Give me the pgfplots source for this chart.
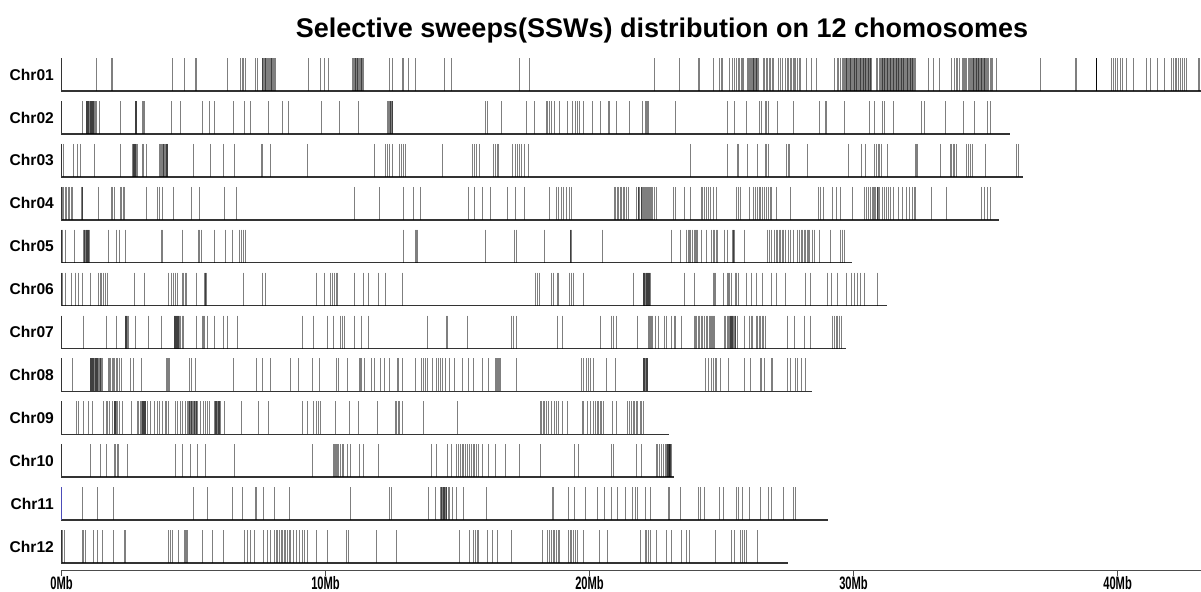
\documentclass[border=0pt]{standalone}
\usepackage{pgfplots}
\pgfplotsset{compat=1.18}
\usepackage{graphicx}
\usepackage{fontspec}
\setmainfont{Liberation Sans}
\newcommand\cond[1]{\scalebox{0.62}[1]{#1}}
\pgfplotsset{
  sweep/.style={only marks, mark=|, mark size=8.25pt,
    mark options={draw=black, draw opacity=0.5, line width=0.5pt}},
  chrom/.style={draw=black!80, line width=0.75pt},
}
\begin{document}
\begin{tikzpicture}
\useasboundingbox (0,0) rectangle (600.5pt,296pt);
\begin{axis}[
  at={(30.75pt,10.5pt)}, anchor=south west,
  scale only axis, width=569.75pt, height=257.1pt,
  xmin=0, xmax=43.16, ymin=0.814, ymax=12.8,
  clip=false,
  axis x line*=bottom, axis y line=none,
  x axis line style={draw=black!70, line width=0.5pt},
  xtick={0,10,20,30,40},
  xticklabels={\cond{0Mb},\cond{10Mb},\cond{20Mb},\cond{30Mb},\cond{40Mb}},
  xticklabel style={font=\bfseries\fontsize{9}{9}\selectfont, inner sep=0.3pt, yshift=0.4pt},
  tick align=outside, major tick length=2.5pt,
  xtick style={draw=black!70, line width=0.5pt},
]
% Chr01
\addplot[chrom] coordinates {(0,12.769)(0,12)(43.16,12)};
\addplot[sweep] table[header=false, x index=0, y expr=12.3846, row sep=\\]{
1.34\\1.88\\1.93\\4.21\\4.67\\5.08\\5.12\\6.28\\6.79\\6.84\\6.90\\6.98\\7.36\\7.42\\7.60\\7.66\\7.71\\7.77\\7.85\\7.91\\7.96\\8.02\\8.10\\9.34\\9.81\\9.95\\10.12\\11.02\\11.08\\11.15\\11.20\\11.26\\11.31\\11.38\\11.44\\12.41\\12.55\\12.90\\12.97\\13.14\\13.42\\14.51\\14.79\\17.34\\17.73\\
22.45\\23.40\\24.12\\24.16\\24.69\\24.93\\24.99\\25.03\\25.29\\25.40\\25.49\\25.58\\25.63\\25.68\\25.74\\25.79\\25.85\\25.97\\26.03\\26.09\\26.17\\26.22\\26.28\\26.34\\26.39\\26.59\\26.64\\26.70\\26.75\\26.81\\26.86\\26.92\\26.98\\27.16\\27.24\\27.32\\27.43\\27.49\\27.55\\27.60\\27.66\\27.71\\27.77\\27.82\\27.88\\27.96\\27.99\\28.21\\28.41\\28.60\\
29.27\\29.38\\29.44\\29.51\\29.58\\29.65\\29.72\\29.77\\29.83\\29.90\\29.97\\30.02\\30.08\\30.13\\30.19\\30.25\\30.30\\30.36\\30.41\\30.47\\30.52\\30.58\\30.63\\30.69\\30.86\\30.91\\30.97\\31.02\\31.08\\31.14\\31.19\\31.25\\31.30\\31.36\\31.41\\31.47\\31.52\\31.58\\31.64\\31.69\\31.75\\31.80\\31.86\\31.91\\31.97\\32.03\\32.08\\32.14\\32.19\\32.25\\32.30\\32.36\\
32.85\\33.03\\33.24\\33.72\\33.81\\33.89\\33.95\\34.03\\34.11\\34.17\\34.25\\34.34\\34.42\\34.50\\34.56\\34.61\\34.67\\34.73\\34.78\\34.84\\34.89\\34.95\\35.00\\35.06\\35.11\\35.17\\35.23\\35.28\\35.42\\37.09\\38.40\\38.45\\39.19\\39.21\\39.22\\39.78\\39.85\\39.92\\39.98\\40.12\\40.19\\40.33\\40.61\\41.10\\41.24\\41.52\\41.79\\42.04\\42.11\\42.18\\42.25\\42.32\\42.39\\42.46\\42.53\\42.60\\43.05\\43.12\\
7.63\\7.69\\7.74\\7.81\\7.88\\7.94\\7.99\\8.06\\11.05\\11.12\\11.18\\11.23\\11.29\\11.35\\11.41\\
29.61\\29.68\\29.75\\29.80\\29.87\\29.94\\30.00\\30.05\\30.11\\30.16\\30.22\\30.28\\30.33\\30.39\\30.44\\30.50\\30.55\\30.61\\30.66\\
31.05\\31.11\\31.17\\31.22\\31.28\\31.33\\31.39\\31.44\\31.50\\31.55\\31.61\\31.66\\31.72\\31.78\\31.83\\31.89\\31.94\\32.00\\32.06\\32.11\\32.17\\32.22\\32.28\\
34.20\\34.29\\34.38\\34.46\\34.53\\34.58\\34.64\\34.70\\34.75\\34.81\\34.86\\34.92\\34.97\\35.03\\39.20\\39.20\\26.06\\26.13\\26.20\\26.25\\26.31\\26.37\\
};
% Chr02
\addplot[chrom] coordinates {(0,11.769)(0,11)(35.94,11)};
\addplot[sweep] table[header=false, x index=0, y expr=11.3846, row sep=\\]{
0.81\\0.93\\0.97\\1.01\\1.06\\1.10\\1.14\\1.18\\1.22\\1.27\\1.31\\1.45\\2.22\\2.81\\2.84\\3.06\\3.12\\3.16\\4.17\\4.52\\5.33\\5.61\\5.81\\6.51\\6.93\\7.15\\7.85\\8.36\\8.61\\9.84\\10.54\\11.26\\12.34\\12.39\\12.45\\12.50\\12.55\\16.05\\16.15\\16.68\\17.62\\17.90\\18.36\\18.42\\18.47\\18.56\\18.67\\18.88\\19.16\\19.34\\19.48\\19.55\\19.62\\19.79\\20.10\\20.42\\20.70\\20.77\\21.02\\21.52\\
22.01\\22.11\\22.15\\22.19\\22.23\\23.26\\25.24\\25.49\\25.93\\26.45\\26.52\\26.66\\26.72\\26.79\\27.11\\27.74\\28.71\\28.92\\28.96\\29.66\\30.59\\30.80\\31.08\\31.19\\31.50\\32.58\\32.68\\33.49\\34.17\\34.59\\35.07\\35.18\\
0.95\\0.99\\1.03\\1.08\\1.12\\1.16\\1.20\\1.24\\2.82\\2.83\\12.42\\12.47\\12.52\\
};
% Chr03
\addplot[chrom] coordinates {(0,10.769)(0,10)(36.41,10)};
\addplot[sweep] table[header=false, x index=0, y expr=10.3846, row sep=\\]{
0.06\\0.45\\0.62\\0.73\\1.25\\2.22\\2.70\\2.74\\2.78\\2.82\\2.86\\3.05\\3.09\\3.23\\3.71\\3.76\\3.82\\3.87\\3.93\\3.99\\4.03\\5.01\\5.64\\6.13\\6.55\\7.57\\7.63\\7.91\\9.32\\11.85\\12.27\\12.34\\12.41\\12.53\\12.81\\12.88\\12.95\\13.04\\14.44\\15.56\\15.63\\15.70\\15.84\\16.37\\16.43\\16.50\\16.57\\17.10\\17.18\\17.27\\17.35\\17.44\\17.55\\17.69\\
23.82\\25.24\\25.60\\25.63\\25.97\\26.35\\26.66\\26.71\\26.79\\27.46\\27.52\\27.56\\28.27\\29.80\\30.31\\30.47\\30.80\\30.87\\30.94\\31.00\\31.05\\31.30\\32.33\\32.37\\32.42\\33.28\\33.67\\33.72\\33.78\\33.83\\33.89\\34.28\\34.35\\34.42\\34.49\\35.00\\36.19\\36.23\\
2.72\\2.76\\2.80\\2.84\\3.79\\3.85\\3.90\\3.96\\4.01\\
};
% Chr04
\addplot[chrom] coordinates {(0,9.769)(0,9)(35.50,9)};
\addplot[sweep] table[header=false, x index=0, y expr=9.3846, row sep=\\]{
0.03\\0.09\\0.15\\0.20\\0.26\\0.31\\0.37\\0.43\\0.76\\0.79\\1.41\\1.88\\1.94\\2.00\\2.22\\2.28\\2.33\\2.39\\3.23\\3.65\\3.72\\3.82\\4.24\\4.91\\5.22\\6.17\\6.62\\11.08\\12.06\\12.95\\13.32\\13.60\\15.42\\15.66\\15.94\\16.26\\16.88\\17.20\\17.52\\18.47\\18.75\\18.84\\18.95\\19.03\\19.12\\19.23\\19.31\\20.94\\21.00\\21.05\\21.11\\21.16\\21.22\\21.28\\21.33\\21.40\\21.47\\
21.79\\21.84\\21.90\\21.95\\22.01\\22.06\\22.12\\22.17\\22.23\\22.29\\22.34\\22.40\\22.45\\22.54\\23.18\\23.26\\23.59\\23.82\\24.23\\24.29\\24.35\\24.43\\24.51\\24.60\\24.68\\24.82\\25.56\\25.63\\25.71\\26.07\\26.21\\26.28\\26.35\\26.42\\26.49\\26.56\\26.63\\26.70\\26.77\\26.84\\26.91\\27.07\\27.63\\28.66\\28.74\\28.85\\29.22\\29.34\\29.52\\29.97\\
30.41\\30.50\\30.58\\30.66\\30.72\\30.77\\30.83\\30.89\\30.94\\31.00\\31.08\\31.16\\31.25\\31.33\\31.41\\31.50\\31.72\\31.86\\32.00\\32.11\\32.22\\32.30\\32.36\\32.94\\33.51\\34.86\\34.95\\35.09\\35.20\\
0.78\\21.87\\21.98\\22.09\\22.20\\22.31\\30.80\\30.92\\
};
% Chr05
\addplot[chrom] coordinates {(0,8.769)(0,8)(29.96,8)};
\addplot[sweep] table[header=false, x index=0, y expr=8.3846, row sep=\\]{
0.03\\0.17\\0.48\\0.85\\0.89\\0.93\\0.97\\1.02\\1.06\\1.79\\2.07\\2.21\\2.42\\3.79\\3.83\\4.59\\5.18\\5.22\\5.32\\5.78\\6.20\\6.48\\6.76\\6.83\\6.90\\6.97\\12.95\\13.39\\13.43\\13.47\\16.05\\17.17\\17.24\\18.28\\19.27\\19.30\\20.49\\
23.11\\23.45\\23.68\\23.73\\23.79\\23.84\\23.90\\23.96\\24.01\\24.10\\24.23\\24.43\\24.62\\24.68\\24.74\\24.79\\24.85\\25.10\\25.24\\25.40\\25.44\\25.49\\25.88\\26.74\\26.82\\26.91\\26.99\\27.07\\27.13\\27.18\\27.24\\27.30\\27.35\\27.41\\27.52\\27.63\\27.74\\27.88\\27.96\\28.02\\28.07\\28.13\\28.19\\28.24\\28.30\\28.35\\28.44\\28.51\\28.71\\29.13\\29.51\\29.58\\29.66\\
0.87\\0.91\\0.95\\0.99\\1.04\\19.28\\24.05\\25.45\\
};
% Chr06
\addplot[chrom] coordinates {(0,7.769)(0,7)(31.25,7)};
\addplot[sweep] table[header=false, x index=0, y expr=7.3846, row sep=\\]{
0.03\\0.17\\0.38\\0.52\\0.66\\0.80\\1.08\\1.41\\1.46\\1.52\\1.60\\1.67\\1.73\\2.77\\3.16\\4.07\\4.15\\4.24\\4.32\\4.38\\4.57\\4.63\\4.69\\4.74\\5.12\\5.40\\5.44\\5.48\\6.90\\7.63\\7.71\\9.67\\9.98\\10.19\\10.26\\10.33\\10.40\\10.47\\11.08\\11.45\\11.64\\12.01\\12.29\\12.90\\17.97\\18.04\\18.11\\18.56\\18.64\\18.78\\18.84\\19.26\\19.33\\19.40\\19.79\\21.68\\
22.04\\22.08\\22.12\\22.16\\22.20\\22.24\\22.29\\22.31\\23.59\\23.98\\24.68\\24.72\\24.76\\25.07\\25.21\\25.26\\25.32\\25.38\\25.51\\25.58\\25.65\\25.93\\26.14\\26.32\\26.56\\26.88\\27.07\\27.41\\28.19\\28.38\\29.02\\29.16\\29.38\\29.74\\29.94\\30.05\\30.16\\30.27\\30.41\\30.89\\
22.06\\22.10\\22.14\\22.18\\22.22\\22.26\\5.46\\
};
% Chr07
\addplot[chrom] coordinates {(0,6.769)(0,6)(29.70,6)};
\addplot[sweep] table[header=false, x index=0, y expr=6.3846, row sep=\\]{
0.85\\1.69\\2.07\\2.42\\2.46\\2.50\\2.54\\2.81\\3.29\\3.79\\4.27\\4.31\\4.35\\4.39\\4.43\\4.48\\4.52\\4.57\\4.63\\5.11\\5.33\\5.36\\5.40\\5.53\\5.78\\6.13\\6.30\\6.65\\9.11\\9.53\\10.07\\10.29\\10.58\\10.64\\10.71\\11.10\\11.36\\11.62\\13.88\\14.58\\14.63\\15.38\\17.06\\17.13\\17.24\\18.78\\18.98\\20.42\\20.84\\20.91\\21.02\\
21.80\\22.23\\22.27\\22.31\\22.36\\22.40\\22.48\\22.62\\22.84\\22.90\\23.12\\23.23\\23.26\\23.48\\23.96\\24.01\\24.07\\24.12\\24.18\\24.23\\24.29\\24.35\\24.43\\24.48\\24.54\\24.60\\24.65\\24.72\\25.10\\25.15\\25.21\\25.26\\25.31\\25.35\\25.39\\25.43\\25.49\\25.54\\25.60\\25.86\\26.07\\26.14\\26.18\\26.32\\26.38\\26.43\\26.49\\26.54\\26.60\\26.66\\27.49\\27.77\\28.13\\28.37\\29.20\\29.27\\29.34\\29.41\\29.48\\29.55\\
24.62\\24.68\\25.33\\25.37\\25.41\\25.45\\25.51\\4.29\\4.33\\4.37\\4.41\\4.45\\2.44\\2.48\\
};
% Chr08
\addplot[chrom] coordinates {(0,5.769)(0,5)(28.44,5)};
\addplot[sweep] table[header=false, x index=0, y expr=5.3846, row sep=\\]{
0.43\\1.09\\1.13\\1.17\\1.21\\1.25\\1.30\\1.34\\1.38\\1.44\\1.49\\1.55\\1.79\\1.83\\1.87\\1.93\\1.97\\2.01\\2.07\\2.14\\2.21\\2.28\\2.63\\2.72\\3.02\\3.96\\4.00\\4.04\\4.10\\4.85\\4.94\\5.08\\6.51\\7.39\\7.60\\7.92\\8.67\\8.97\\9.49\\9.77\\10.43\\10.51\\10.82\\11.27\\11.33\\11.38\\11.47\\11.73\\11.87\\12.08\\12.25\\12.43\\12.71\\12.78\\12.90\\13.42\\13.63\\13.71\\13.77\\13.85\\14.05\\14.19\\14.27\\14.35\\14.44\\14.54\\14.68\\14.89\\15.17\\15.42\\15.61\\15.94\\16.18\\16.43\\16.47\\16.51\\16.55\\16.60\\16.64\\17.24\\19.68\\19.79\\19.87\\19.96\\20.04\\20.14\\20.63\\20.98\\
22.04\\22.08\\22.12\\22.16\\22.20\\24.40\\24.51\\24.61\\24.71\\24.76\\24.82\\24.96\\25.28\\25.86\\26.10\\26.46\\26.52\\26.63\\26.91\\26.93\\27.49\\27.60\\27.82\\27.88\\28.02\\28.19\\
1.11\\1.15\\1.19\\1.23\\1.27\\1.32\\1.36\\1.41\\1.46\\1.52\\22.06\\22.10\\22.14\\22.18\\
};
% Chr09
\addplot[chrom] coordinates {(0,4.769)(0,4)(23.01,4)};
\addplot[sweep] table[header=false, x index=0, y expr=4.3846, row sep=\\]{
0.57\\0.66\\0.85\\1.02\\1.18\\1.60\\1.69\\1.76\\1.83\\1.95\\2.00\\2.04\\2.08\\2.14\\2.21\\2.30\\2.65\\2.86\\2.92\\2.98\\3.03\\3.07\\3.12\\3.16\\3.20\\3.24\\3.37\\3.54\\3.63\\3.71\\3.82\\3.93\\3.99\\4.04\\4.32\\4.41\\4.52\\4.59\\4.69\\4.77\\4.83\\4.88\\4.94\\4.99\\5.05\\5.11\\5.15\\5.25\\5.36\\5.44\\5.53\\5.61\\5.78\\5.82\\5.86\\5.90\\5.95\\5.99\\6.03\\6.17\\6.80\\7.46\\7.84\\9.14\\9.32\\9.53\\9.67\\9.74\\9.81\\10.36\\10.91\\11.24\\11.97\\12.64\\12.70\\12.76\\12.81\\12.90\\13.70\\15.00\\
18.14\\18.19\\18.25\\18.31\\18.36\\18.46\\18.56\\18.67\\18.74\\18.84\\18.98\\19.16\\19.72\\19.79\\19.93\\20.04\\20.14\\20.24\\20.29\\20.35\\20.41\\20.46\\20.52\\20.88\\21.02\\21.45\\21.52\\21.59\\21.65\\21.70\\21.76\\21.83\\21.92\\21.98\\22.04\\
3.05\\3.10\\3.14\\3.18\\4.80\\4.86\\4.91\\4.97\\5.02\\5.08\\5.13\\2.02\\2.06\\5.84\\5.88\\5.93\\5.97\\
};
% Chr10
\addplot[chrom] coordinates {(0,3.769)(0,3)(23.21,3)};
\addplot[sweep] table[header=false, x index=0, y expr=3.3846, row sep=\\]{
1.10\\1.49\\1.72\\1.99\\2.05\\2.11\\2.16\\2.49\\4.32\\4.59\\4.87\\5.15\\5.44\\6.54\\9.49\\10.29\\10.35\\10.40\\10.46\\10.51\\10.57\\10.63\\10.68\\10.82\\10.96\\11.27\\11.45\\12.01\\14.02\\14.19\\14.63\\14.77\\14.96\\15.03\\15.10\\15.17\\15.24\\15.31\\15.38\\15.45\\15.52\\15.59\\15.66\\15.73\\15.80\\15.94\\16.18\\16.43\\16.82\\17.34\\18.15\\19.44\\19.58\\20.84\\20.91\\
21.79\\21.95\\22.52\\22.59\\22.66\\22.73\\22.80\\22.87\\22.93\\22.97\\23.01\\23.05\\23.09\\
22.95\\22.99\\23.03\\23.07\\23.00\\23.04\\10.38\\
};
% Chr11
\addplot[chrom] coordinates {(0,2)(29.02,2)};
\addplot[draw=blue!60!black!70, line width=0.6pt] coordinates {(0,2)(0,2.769)};
\addplot[sweep] table[header=false, x index=0, y expr=2.3846, row sep=\\]{
0.78\\1.35\\1.97\\5.00\\5.54\\6.49\\6.87\\7.33\\7.38\\7.64\\8.07\\8.64\\10.95\\12.44\\12.49\\13.90\\14.16\\14.36\\14.41\\14.45\\14.50\\14.54\\14.59\\14.64\\14.70\\14.82\\14.97\\15.23\\16.08\\18.61\\18.65\\19.22\\19.42\\19.83\\20.30\\20.56\\20.83\\21.06\\21.37\\21.62\\
21.73\\21.83\\22.11\\22.31\\22.98\\23.04\\23.45\\24.12\\24.19\\24.37\\24.93\\25.07\\25.56\\25.63\\25.79\\26.07\\26.49\\26.79\\26.88\\27.35\\27.74\\27.81\\
14.38\\14.43\\14.48\\14.52\\14.57\\
};
% Chr12
\addplot[chrom] coordinates {(0,1.769)(0,1)(27.53,1)};
\addplot[sweep] table[header=false, x index=0, y expr=1.3846, row sep=\\]{
0.05\\0.12\\0.78\\0.85\\0.91\\1.20\\1.35\\1.54\\1.97\\2.39\\2.43\\4.04\\4.11\\4.19\\4.42\\4.65\\4.70\\4.74\\4.79\\5.34\\5.72\\6.14\\6.94\\7.06\\7.15\\7.30\\7.64\\7.79\\7.92\\8.07\\8.13\\8.19\\8.25\\8.32\\8.38\\8.44\\8.50\\8.56\\8.62\\8.68\\8.79\\8.90\\9.02\\9.14\\9.21\\9.33\\9.64\\10.06\\10.79\\10.86\\11.94\\12.67\\15.08\\15.46\\15.59\\15.69\\15.74\\15.80\\16.15\\16.31\\16.51\\17.03\\18.23\\18.41\\18.50\\18.56\\18.62\\18.69\\18.75\\18.81\\18.87\\19.22\\19.27\\19.33\\19.39\\19.45\\19.53\\19.76\\20.37\\20.68\\
21.92\\22.11\\22.17\\22.24\\22.31\\22.52\\22.90\\23.12\\23.50\\23.68\\23.78\\24.78\\25.38\\25.49\\25.72\\25.79\\25.86\\25.96\\26.38\\
};
% chromosome names
\pgfplotsinvokeforeach{1,...,12}{%
  \node[anchor=east, inner sep=0pt, font=\bfseries\fontsize{7.8}{9}\selectfont]
    at (axis cs:0,{13-#1+0.3846}) [xshift=-3.6pt] {\ifnum#1<10 Chr0#1\else Chr#1\fi};
}
\end{axis}
\node[font=\bfseries\fontsize{13.5}{16}\selectfont] at (331pt,280.8pt) {Selective sweeps(SSWs) distribution on 12 chomosomes};
\end{tikzpicture}
\end{document}
